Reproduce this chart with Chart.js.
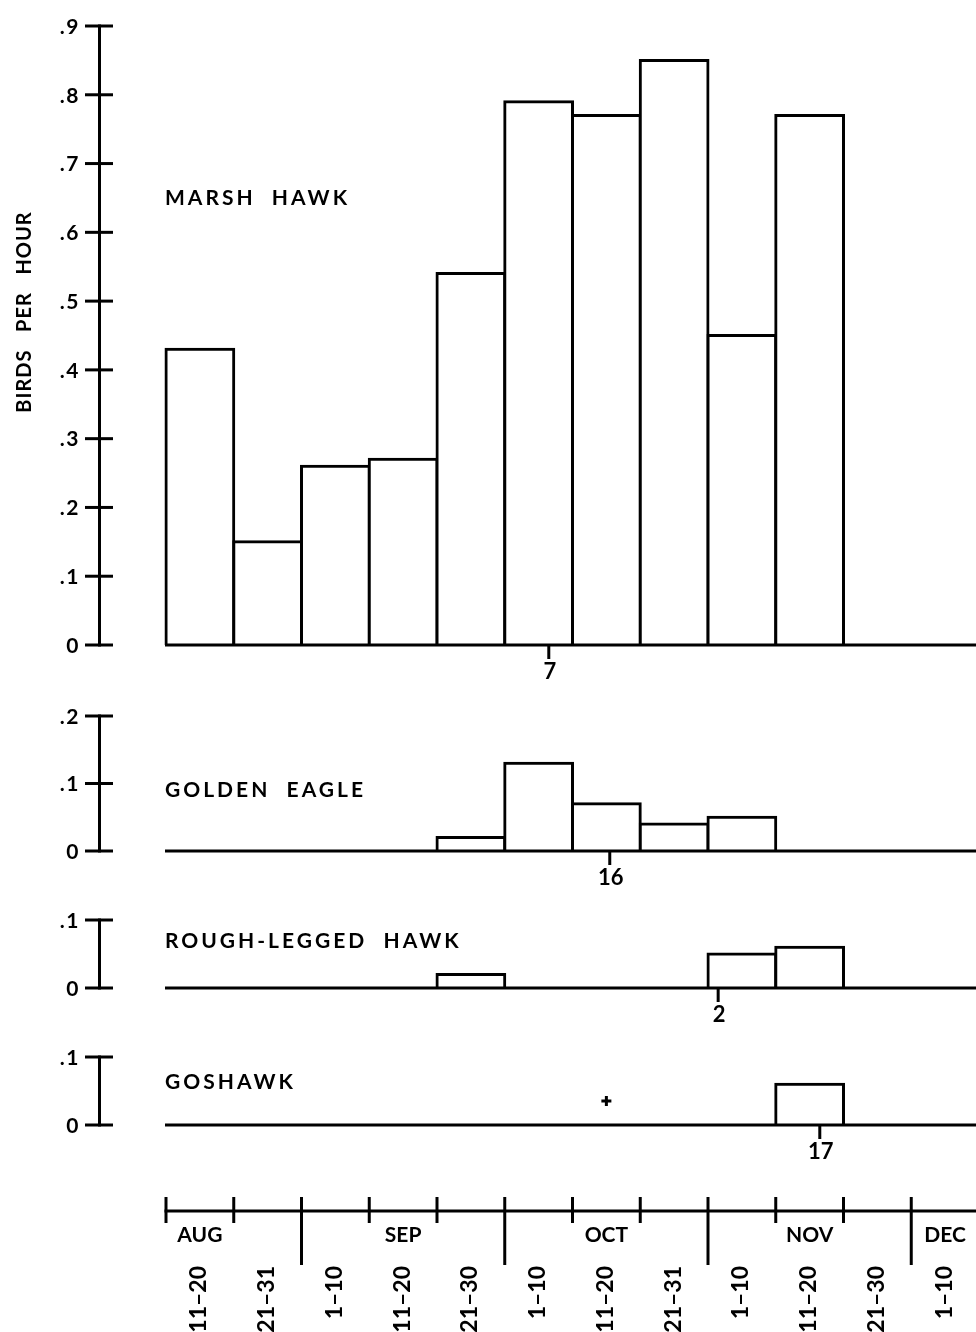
<!DOCTYPE html>
<html>
<head>
<meta charset="utf-8">
<script src="https://cdn.jsdelivr.net/npm/chart.js@4.4.1/dist/chart.umd.min.js"></script>
<style>
html, body { margin: 0; padding: 0; background: #fff; }
#wrap { position: relative; width: 976px; height: 1332px; overflow: hidden; background: #fff; }
#wrap canvas { position: absolute; left: 0; }
</style>
</head>
<body>
<div id="wrap"></div>
<script>
// ---------------- DATA ----------------
const bins = ['AUG 11–20','AUG 21–31','SEP 1–10','SEP 11–20','SEP 21–30','OCT 1–10','OCT 11–20','OCT 21–31','NOV 1–10','NOV 11–20','NOV 21–30','DEC 1–10'];
const binLabels = ['11–20','21–31','1–10','11–20','21–30','1–10','11–20','21–31','1–10','11–20','21–30','1–10'];
const binStartDays = [11,21,1,11,21,1,11,21,1,11,21,1];
const binLengths   = [10,11,10,10,10,10,10,11,10,10,10,10];
const months = ['AUG','SEP','OCT','NOV','DEC'];
const monthLabelBins = [0,3,6,9,11];
const monthStartBoundaries = [2,5,8,11];

const marshHawk   = [0.43,0.15,0.26,0.27,0.54,0.79,0.77,0.85,0.45,0.77,0,0];
const goldenEagle = [0,0,0,0,0.02,0.13,0.07,0.04,0.05,0,0,0];
const roughLegged = [0,0,0,0,0.02,0,0,0,0.05,0.06,0,0];
const goshawk     = [0,0,0,0,0,0,0,0,0,0.06,0,0];

const marshTicks = [0,0.1,0.2,0.3,0.4,0.5,0.6,0.7,0.8,0.9];
const eagleTicks = [0,0.1,0.2];
const roughTicks = [0,0.1];
const goshTicks  = [0,0.1];

const speciesNames = ['MARSH  HAWK','GOLDEN  EAGLE','ROUGH-LEGGED  HAWK','GOSHAWK'];
const medianLabels = ['7','16','2','17'];
const medianBins   = [5,6,8,9];
const medianDays   = [7,16,2,17];
const goshawkTraceBins = [6];
const yTitle = 'BIRDS   PER   HOUR';

// ---------------- LAYOUT / STYLE ----------------
const FONT = 'Lato, "DejaVu Sans", sans-serif';
const CW = 979;
const AXIS_X = 99.5;
const panels = [
  { data: marshHawk,   ticks: marshTicks, name: speciesNames[0], top: 0,    height: 700, padTop: 26, padBottom: 55, labelY: 197,  median: 0, title: true },
  { data: goldenEagle, ticks: eagleTicks, name: speciesNames[1], top: 690,  height: 210, padTop: 26, padBottom: 49, labelY: 789,  median: 1 },
  { data: roughLegged, ticks: roughTicks, name: speciesNames[2], top: 900,  height: 130, padTop: 20, padBottom: 42, labelY: 940,  median: 2 },
  { data: goshawk,     ticks: goshTicks,  name: speciesNames[3], top: 1030, height: 140, padTop: 27, padBottom: 45, labelY: 1081, median: 3, trace: goshawkTraceBins }
];

function medianPos(i) {
  const b = medianBins[i];
  return b - 0.5 + (medianDays[i] - binStartDays[b] + 0.5) / binLengths[b];
}
function tickText(v) { return v === 0 ? '0' : '.' + Math.round(v * 10); }

function makeCanvas(top, height) {
  const c = document.createElement('canvas');
  c.width = CW; c.height = height;
  c.style.top = top + 'px';
  c.style.width = CW + 'px'; c.style.height = height + 'px';
  document.getElementById('wrap').appendChild(c);
  return c;
}

const panelPlugin = {
  id: 'panelDeco',
  afterDatasetsDraw(chart, args, opts) {
    const p = opts.panel;
    const ctx = chart.ctx;
    const xs = chart.scales.x, ys = chart.scales.y;
    const y0 = ys.getPixelForValue(0);
    const left = xs.getPixelForValue(-0.5);
    ctx.save();
    ctx.strokeStyle = '#000';
    ctx.fillStyle = '#000';
    ctx.lineCap = 'butt';
    // baseline
    ctx.lineWidth = 3;
    ctx.beginPath();
    ctx.moveTo(left - 1, y0);
    ctx.lineTo(chart.chartArea.right, y0);
    ctx.stroke();
    // y axis
    const yTop = ys.getPixelForValue(p.ticks[p.ticks.length - 1]);
    ctx.beginPath();
    ctx.moveTo(AXIS_X, y0 + 1.5);
    ctx.lineTo(AXIS_X, yTop - 1.5);
    ctx.stroke();
    ctx.font = 'bold 21px ' + FONT;
    ctx.textAlign = 'right';
    ctx.textBaseline = 'middle';
    try { ctx.letterSpacing = '1.5px'; } catch (e) {}
    p.ticks.forEach(v => {
      const ty = ys.getPixelForValue(v);
      ctx.beginPath();
      ctx.moveTo(85, ty);
      ctx.lineTo(113, ty);
      ctx.stroke();
      ctx.fillText(tickText(v), 80, ty + 1);
    });
    // median marker
    const mx = xs.getPixelForValue(medianPos(p.median));
    ctx.beginPath();
    ctx.moveTo(mx, y0);
    ctx.lineTo(mx, y0 + 14);
    ctx.stroke();
    try { ctx.letterSpacing = '0px'; } catch (e) {}
    ctx.font = 'bold 22px ' + FONT;
    ctx.textAlign = 'center';
    ctx.fillText(medianLabels[p.median], mx + 1, y0 + 27);
    // trace marks
    if (p.trace) {
      p.trace.forEach(b => {
        const tx = xs.getPixelForValue(b);
        const ty = y0 - 24;
        ctx.lineWidth = 3;
        ctx.beginPath();
        ctx.moveTo(tx - 5, ty); ctx.lineTo(tx + 5, ty);
        ctx.moveTo(tx, ty - 5); ctx.lineTo(tx, ty + 5);
        ctx.stroke();
      });
    }
    // species label
    ctx.font = 'bold 21px ' + FONT;
    ctx.textAlign = 'left';
    try { ctx.letterSpacing = '3px'; } catch (e) {}
    ctx.fillText(p.name, 165, p.labelY - p.top + 1);
    // y title
    if (p.title) {
      ctx.translate(25, 312 - p.top);
      ctx.rotate(-Math.PI / 2);
      ctx.font = 'bold 20px ' + FONT;
      ctx.textAlign = 'center';
      try { ctx.letterSpacing = '1px'; } catch (e) {}
      ctx.fillText(yTitle, 0, 0);
    }
    ctx.restore();
  }
};

panels.forEach(p => {
  const c = makeCanvas(p.top, p.height);
  new Chart(c, {
    type: 'bar',
    data: {
      labels: bins,
      datasets: [{
        data: p.data,
        backgroundColor: '#ffffff',
        borderColor: '#000000',
        borderWidth: 3,
        inflateAmount: 1.5,
        categoryPercentage: 1.0,
        barPercentage: 1.0,
        clip: false
      }]
    },
    options: {
      responsive: false,
      devicePixelRatio: 1,
      animation: false,
      events: [],
      layout: { padding: { left: 166, right: 0, top: p.padTop, bottom: p.padBottom } },
      plugins: { legend: { display: false }, tooltip: { enabled: false }, panelDeco: { panel: p } },
      scales: {
        x: { display: false, offset: true },
        y: { display: false, min: 0, max: p.ticks[p.ticks.length - 1] }
      }
    },
    plugins: [panelPlugin]
  });
});

// ---------------- bottom time axis ----------------
const AX_TOP = 1170, AX_H = 162, AX_LINE = 1211;
const axisPlugin = {
  id: 'timeAxis',
  afterDraw(chart) {
    const ctx = chart.ctx;
    const xs = chart.scales.x;
    const y = chart.chartArea.bottom;
    ctx.save();
    ctx.strokeStyle = '#000';
    ctx.fillStyle = '#000';
    ctx.lineWidth = 3;
    ctx.beginPath();
    ctx.moveTo(xs.getPixelForValue(-0.5) - 1.5, y);
    ctx.lineTo(chart.chartArea.right, y);
    ctx.stroke();
    for (let b = 0; b < bins.length; b++) {
      const bx = xs.getPixelForValue(b - 0.5);
      const long = monthStartBoundaries.includes(b);
      ctx.beginPath();
      ctx.moveTo(bx, y - 14);
      ctx.lineTo(bx, long ? y + 54 : y + 12);
      ctx.stroke();
    }
    ctx.font = 'bold 21px ' + FONT;
    ctx.textAlign = 'center';
    ctx.textBaseline = 'middle';
    months.forEach((m, i) => {
      ctx.fillText(m, xs.getPixelForValue(monthLabelBins[i]), y + 24);
    });
    ctx.font = 'bold 23px ' + FONT;
    ctx.textAlign = 'right';
    binLabels.forEach((t, i) => {
      ctx.save();
      ctx.translate(xs.getPixelForValue(i) - 1, y + 55);
      ctx.rotate(-Math.PI / 2);
      ctx.fillText(t, 0, 0);
      ctx.restore();
    });
    ctx.restore();
  }
};
const ac = makeCanvas(AX_TOP, AX_H);
new Chart(ac, {
  type: 'bar',
  data: { labels: bins, datasets: [{ data: [], backgroundColor: '#fff' }] },
  options: {
    responsive: false,
    devicePixelRatio: 1,
    animation: false,
    events: [],
    layout: { padding: { left: 166, right: 0, top: 10, bottom: AX_TOP + AX_H - AX_LINE } },
    plugins: { legend: { display: false }, tooltip: { enabled: false } },
    scales: {
      x: { display: false, offset: true },
      y: { display: false, min: 0, max: 1 }
    }
  },
  plugins: [axisPlugin]
});
</script>
</body>
</html>
